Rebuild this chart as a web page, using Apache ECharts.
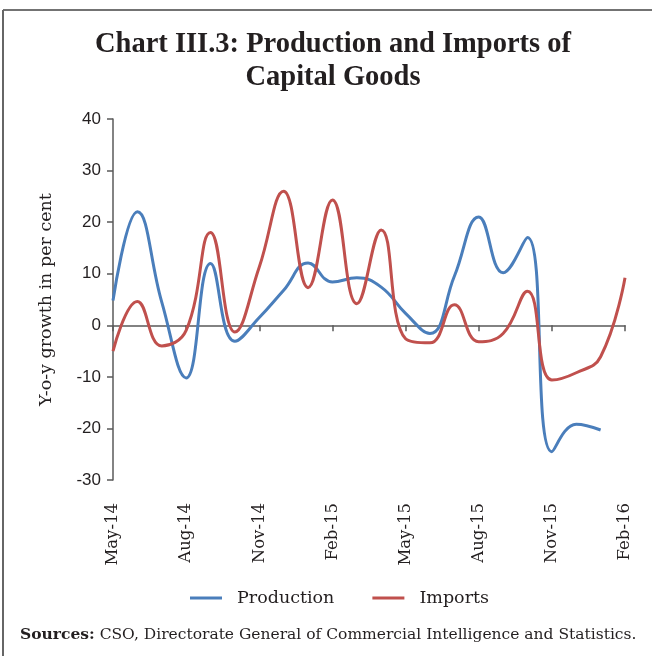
<!DOCTYPE html>
<html>
<head>
<meta charset="utf-8">
<script src="https://cdn.jsdelivr.net/npm/echarts@6/dist/echarts.min.js"></script>
<style>
  html, body { margin: 0; padding: 0; background: #fff; }
  #chart { width: 652px; height: 656px; }
</style>
</head>
<body>
<div id="chart"></div>
<script>
// Monthly categories, May-14 to Feb-16
const months = ['May-14','Jun-14','Jul-14','Aug-14','Sep-14','Oct-14','Nov-14','Dec-14',
  'Jan-15','Feb-15','Mar-15','Apr-15','May-15','Jun-15','Jul-15','Aug-15','Sep-15',
  'Oct-15','Nov-15','Dec-15','Jan-16','Feb-16'];

// Y-o-y growth, per cent
const production = [4.8, 22.0, 4.5, -10.2, 12.0, -3.1, 1.5, 6.8, 12.1, 8.4, 9.2, 7.4,
  2.3, -1.6, 9.5, 21.0, 10.2, 17.0, -24.5, -19.2, -20.3, null];
const imports = [-5.0, 4.6, -4.0, -1.0, 18.0, -1.3, 11.3, 26.0, 7.3, 24.3, 4.2, 18.5,
  -2.6, -3.4, 4.0, -3.2, -1.6, 6.6, -10.6, -9.2, -6.1, 9.2];

const yTicks = { min: -30, max: 40, step: 10 };

const TITLE_FONT = '"Liberation Serif", serif';
const SERIF = '"DejaVu Serif", "Liberation Serif", serif';
const SANS = '"Liberation Sans", Arial, sans-serif';
const AXIS_GREY = '#5a5a5a';
const TEXT = '#231f20';

const chart = echarts.init(document.getElementById('chart'), null, { renderer: 'canvas' });

chart.setOption({
  animation: false,
  backgroundColor: '#fff',
  title: {
    text: 'Chart III.3: Production and Imports of\nCapital Goods',
    left: 328,
    top: 23,
    textAlign: 'center',
    textStyle: {
      fontFamily: TITLE_FONT,
      fontWeight: 'bold',
      fontSize: 28.5,
      lineHeight: 33,
      color: TEXT
    }
  },
  grid: { left: 113, right: 27, top: 119, bottom: 176, containLabel: false },
  legend: {
    bottom: 44,
    left: 185,
    itemGap: 38,
    itemWidth: 32,
    itemHeight: 3,
    icon: 'rect',
    textStyle: { fontFamily: SERIF, fontSize: 17.5, color: TEXT, padding: [0, 0, 0, 10] },
    data: ['Production', 'Imports']
  },
  xAxis: [
    {
      type: 'category',
      data: months,
      boundaryGap: false,
      position: 'bottom',
      axisLine: { show: false, onZero: false },
      axisTick: { show: false },
      axisLabel: {
        interval: 2,
        rotate: 90,
        margin: 23,
        fontFamily: SERIF,
        fontSize: 16.5,
        color: TEXT
      }
    },
    {
      type: 'category',
      data: months,
      boundaryGap: false,
      position: 'bottom',
      axisLine: { show: true, onZero: true, lineStyle: { color: AXIS_GREY, width: 1.5 } },
      axisTick: { show: true, interval: 2, inside: false, length: 6, lineStyle: { color: AXIS_GREY, width: 1.5 } },
      axisLabel: { show: false }
    }
  ],
  yAxis: {
    type: 'value',
    min: yTicks.min,
    max: yTicks.max,
    interval: yTicks.step,
    name: 'Y-o-y growth in per cent',
    nameLocation: 'middle',
    nameGap: 58,
    nameTextStyle: { fontFamily: SERIF, fontSize: 17.5, color: TEXT },
    axisLine: { show: true, lineStyle: { color: AXIS_GREY, width: 1.5 } },
    axisTick: { show: true, length: 6, lineStyle: { color: AXIS_GREY, width: 1.5 } },
    axisLabel: { fontFamily: SANS, fontSize: 17, color: TEXT, margin: 12 },
    splitLine: { show: false }
  },
  series: [
    {
      name: 'Production',
      type: 'line',
      data: production,
      smooth: 0.45,
      showSymbol: false,
      connectNulls: false,
      lineStyle: { color: '#4a7ebb', width: 3 },
      itemStyle: { color: '#4a7ebb' }
    },
    {
      name: 'Imports',
      type: 'line',
      data: imports,
      smooth: 0.45,
      showSymbol: false,
      lineStyle: { color: '#c0504d', width: 3 },
      itemStyle: { color: '#c0504d' }
    }
  ],
  graphic: [
    // frame: top and left rules
    { type: 'line', shape: { x1: 3, y1: 10, x2: 652, y2: 10 }, style: { stroke: '#444', lineWidth: 1.5 } },
    { type: 'line', shape: { x1: 3, y1: 10, x2: 3, y2: 656 }, style: { stroke: '#666', lineWidth: 2 } },
    {
      type: 'text',
      left: 20,
      top: 627,
      style: {
        text: '{b|Sources:} CSO, Directorate General of Commercial Intelligence and Statistics.',
        fontFamily: SERIF,
        fontSize: 15.5,
        fill: TEXT,
        rich: {
          b: { fontFamily: SERIF, fontSize: 15.5, fontWeight: 'bold', fill: TEXT }
        }
      }
    }
  ]
});
</script>
</body>
</html>
